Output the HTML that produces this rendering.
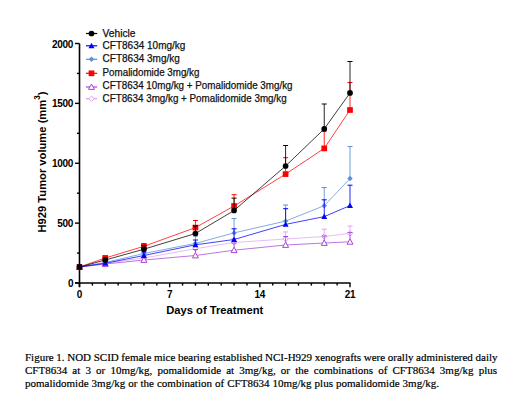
<!DOCTYPE html>
<html><head><meta charset="utf-8"><style>
html,body{margin:0;padding:0;background:#fff;}
body{width:520px;height:412px;overflow:hidden;position:relative;}
svg{position:absolute;left:0;top:0;}
.tl{font-family:"Liberation Sans",sans-serif;font-weight:bold;font-size:10px;letter-spacing:-0.25px;fill:#000;}
.lg{font-family:"Liberation Sans",sans-serif;font-size:10.4px;fill:#111;stroke:#111;stroke-width:0.25px;}
.at{font-family:"Liberation Sans",sans-serif;font-weight:bold;font-size:11.2px;fill:#000;}
.cap{position:absolute;left:25px;width:472px;font-family:"Liberation Serif",serif;font-size:11px;color:#000;white-space:nowrap;line-height:12.5px;-webkit-text-stroke:0.2px #000;}
.j{text-align:justify;text-align-last:justify;}
</style></head><body>
<svg width="520" height="412" viewBox="0 0 520 412">
<line x1="79.5" y1="43.5" x2="79.5" y2="287" stroke="#000" stroke-width="1.6"/>
<line x1="75" y1="283" x2="350.5" y2="283" stroke="#000" stroke-width="1.7"/>
<line x1="75" y1="283.00" x2="79.5" y2="283.00" stroke="#000" stroke-width="1.4"/>
<line x1="77" y1="253.06" x2="79.5" y2="253.06" stroke="#000" stroke-width="1.4"/>
<line x1="75" y1="223.12" x2="79.5" y2="223.12" stroke="#000" stroke-width="1.4"/>
<line x1="77" y1="193.19" x2="79.5" y2="193.19" stroke="#000" stroke-width="1.4"/>
<line x1="75" y1="163.25" x2="79.5" y2="163.25" stroke="#000" stroke-width="1.4"/>
<line x1="77" y1="133.31" x2="79.5" y2="133.31" stroke="#000" stroke-width="1.4"/>
<line x1="75" y1="103.38" x2="79.5" y2="103.38" stroke="#000" stroke-width="1.4"/>
<line x1="77" y1="73.44" x2="79.5" y2="73.44" stroke="#000" stroke-width="1.4"/>
<line x1="75" y1="43.50" x2="79.5" y2="43.50" stroke="#000" stroke-width="1.4"/>
<line x1="79.50" y1="283" x2="79.50" y2="287.3" stroke="#000" stroke-width="1.4"/>
<line x1="92.38" y1="283" x2="92.38" y2="285.6" stroke="#000" stroke-width="1.4"/>
<line x1="105.26" y1="283" x2="105.26" y2="285.6" stroke="#000" stroke-width="1.4"/>
<line x1="118.14" y1="283" x2="118.14" y2="285.6" stroke="#000" stroke-width="1.4"/>
<line x1="131.02" y1="283" x2="131.02" y2="285.6" stroke="#000" stroke-width="1.4"/>
<line x1="143.91" y1="283" x2="143.91" y2="285.6" stroke="#000" stroke-width="1.4"/>
<line x1="156.79" y1="283" x2="156.79" y2="285.6" stroke="#000" stroke-width="1.4"/>
<line x1="169.67" y1="283" x2="169.67" y2="287.3" stroke="#000" stroke-width="1.4"/>
<line x1="182.55" y1="283" x2="182.55" y2="285.6" stroke="#000" stroke-width="1.4"/>
<line x1="195.43" y1="283" x2="195.43" y2="285.6" stroke="#000" stroke-width="1.4"/>
<line x1="208.31" y1="283" x2="208.31" y2="285.6" stroke="#000" stroke-width="1.4"/>
<line x1="221.19" y1="283" x2="221.19" y2="285.6" stroke="#000" stroke-width="1.4"/>
<line x1="234.07" y1="283" x2="234.07" y2="285.6" stroke="#000" stroke-width="1.4"/>
<line x1="246.95" y1="283" x2="246.95" y2="285.6" stroke="#000" stroke-width="1.4"/>
<line x1="259.83" y1="283" x2="259.83" y2="287.3" stroke="#000" stroke-width="1.4"/>
<line x1="272.72" y1="283" x2="272.72" y2="285.6" stroke="#000" stroke-width="1.4"/>
<line x1="285.60" y1="283" x2="285.60" y2="285.6" stroke="#000" stroke-width="1.4"/>
<line x1="298.48" y1="283" x2="298.48" y2="285.6" stroke="#000" stroke-width="1.4"/>
<line x1="311.36" y1="283" x2="311.36" y2="285.6" stroke="#000" stroke-width="1.4"/>
<line x1="324.24" y1="283" x2="324.24" y2="285.6" stroke="#000" stroke-width="1.4"/>
<line x1="337.12" y1="283" x2="337.12" y2="285.6" stroke="#000" stroke-width="1.4"/>
<line x1="350.00" y1="283" x2="350.00" y2="287.3" stroke="#000" stroke-width="1.4"/>
<text x="73.2" y="287.10" text-anchor="end" class="tl">0</text>
<text x="73.2" y="227.22" text-anchor="end" class="tl">500</text>
<text x="73.2" y="167.35" text-anchor="end" class="tl">1000</text>
<text x="73.2" y="107.47" text-anchor="end" class="tl">1500</text>
<text x="73.2" y="47.60" text-anchor="end" class="tl">2000</text>
<text x="79.50" y="298" text-anchor="middle" class="tl">0</text>
<text x="169.67" y="298" text-anchor="middle" class="tl">7</text>
<text x="259.83" y="298" text-anchor="middle" class="tl">14</text>
<text x="350.00" y="298" text-anchor="middle" class="tl">21</text>
<polyline points="79.50,267.00 105.26,263.00 143.91,258.00 195.43,248.70 234.07,242.50 285.60,239.00 324.24,236.50 350.00,233.40" fill="none" stroke="#dca8f0" stroke-width="0.75"/>
<line x1="79.50" y1="267.00" x2="79.50" y2="265.00" stroke="#dca2f0" stroke-width="0.85"/>
<line x1="77.00" y1="265.00" x2="82.00" y2="265.00" stroke="#dca2f0" stroke-width="1"/>
<line x1="105.26" y1="263.00" x2="105.26" y2="261.00" stroke="#dca2f0" stroke-width="0.85"/>
<line x1="102.76" y1="261.00" x2="107.76" y2="261.00" stroke="#dca2f0" stroke-width="1"/>
<line x1="143.91" y1="258.00" x2="143.91" y2="256.00" stroke="#dca2f0" stroke-width="0.85"/>
<line x1="141.41" y1="256.00" x2="146.41" y2="256.00" stroke="#dca2f0" stroke-width="1"/>
<line x1="195.43" y1="248.70" x2="195.43" y2="246.50" stroke="#dca2f0" stroke-width="0.85"/>
<line x1="192.93" y1="246.50" x2="197.93" y2="246.50" stroke="#dca2f0" stroke-width="1"/>
<line x1="234.07" y1="242.50" x2="234.07" y2="238.50" stroke="#dca2f0" stroke-width="0.85"/>
<line x1="231.57" y1="238.50" x2="236.57" y2="238.50" stroke="#dca2f0" stroke-width="1"/>
<line x1="285.60" y1="239.00" x2="285.60" y2="231.90" stroke="#dca2f0" stroke-width="0.85"/>
<line x1="283.10" y1="231.90" x2="288.10" y2="231.90" stroke="#dca2f0" stroke-width="1"/>
<line x1="324.24" y1="236.50" x2="324.24" y2="229.20" stroke="#dca2f0" stroke-width="0.85"/>
<line x1="321.74" y1="229.20" x2="326.74" y2="229.20" stroke="#dca2f0" stroke-width="1"/>
<line x1="350.00" y1="233.40" x2="350.00" y2="226.10" stroke="#dca2f0" stroke-width="0.85"/>
<line x1="347.50" y1="226.10" x2="352.50" y2="226.10" stroke="#dca2f0" stroke-width="1"/>
<polygon points="79.50,264.30 82.20,267.00 79.50,269.70 76.80,267.00" fill="#fff" stroke="#dca2f0" stroke-width="1"/>
<polygon points="105.26,260.30 107.96,263.00 105.26,265.70 102.56,263.00" fill="#fff" stroke="#dca2f0" stroke-width="1"/>
<polygon points="143.91,255.30 146.60,258.00 143.91,260.70 141.21,258.00" fill="#fff" stroke="#dca2f0" stroke-width="1"/>
<polygon points="195.43,246.00 198.13,248.70 195.43,251.40 192.73,248.70" fill="#fff" stroke="#dca2f0" stroke-width="1"/>
<polygon points="234.07,239.80 236.77,242.50 234.07,245.20 231.37,242.50" fill="#fff" stroke="#dca2f0" stroke-width="1"/>
<polygon points="285.60,236.30 288.30,239.00 285.60,241.70 282.90,239.00" fill="#fff" stroke="#dca2f0" stroke-width="1"/>
<polygon points="324.24,233.80 326.94,236.50 324.24,239.20 321.54,236.50" fill="#fff" stroke="#dca2f0" stroke-width="1"/>
<polygon points="350.00,230.70 352.70,233.40 350.00,236.10 347.30,233.40" fill="#fff" stroke="#dca2f0" stroke-width="1"/>
<polyline points="79.50,267.00 105.26,264.00 143.91,260.00 195.43,255.50 234.07,250.20 285.60,245.00 324.24,243.00 350.00,241.80" fill="none" stroke="#a845d8" stroke-width="0.75"/>
<line x1="79.50" y1="267.00" x2="79.50" y2="265.00" stroke="#a845d8" stroke-width="0.85"/>
<line x1="77.00" y1="265.00" x2="82.00" y2="265.00" stroke="#a845d8" stroke-width="1"/>
<line x1="105.26" y1="264.00" x2="105.26" y2="262.00" stroke="#a845d8" stroke-width="0.85"/>
<line x1="102.76" y1="262.00" x2="107.76" y2="262.00" stroke="#a845d8" stroke-width="1"/>
<line x1="143.91" y1="260.00" x2="143.91" y2="258.00" stroke="#a845d8" stroke-width="0.85"/>
<line x1="141.41" y1="258.00" x2="146.41" y2="258.00" stroke="#a845d8" stroke-width="1"/>
<line x1="195.43" y1="255.50" x2="195.43" y2="249.50" stroke="#a845d8" stroke-width="0.85"/>
<line x1="192.93" y1="249.50" x2="197.93" y2="249.50" stroke="#a845d8" stroke-width="1"/>
<line x1="234.07" y1="250.20" x2="234.07" y2="243.00" stroke="#a845d8" stroke-width="0.85"/>
<line x1="231.57" y1="243.00" x2="236.57" y2="243.00" stroke="#a845d8" stroke-width="1"/>
<line x1="285.60" y1="245.00" x2="285.60" y2="236.50" stroke="#a845d8" stroke-width="0.85"/>
<line x1="283.10" y1="236.50" x2="288.10" y2="236.50" stroke="#a845d8" stroke-width="1"/>
<line x1="324.24" y1="243.00" x2="324.24" y2="236.00" stroke="#a845d8" stroke-width="0.85"/>
<line x1="321.74" y1="236.00" x2="326.74" y2="236.00" stroke="#a845d8" stroke-width="1"/>
<line x1="350.00" y1="241.80" x2="350.00" y2="232.60" stroke="#a845d8" stroke-width="0.85"/>
<line x1="347.50" y1="232.60" x2="352.50" y2="232.60" stroke="#a845d8" stroke-width="1"/>
<polygon points="79.50,264.00 82.50,269.40 76.50,269.40" fill="#fff" stroke="#a845d8" stroke-width="1"/>
<polygon points="105.26,261.00 108.26,266.40 102.26,266.40" fill="#fff" stroke="#a845d8" stroke-width="1"/>
<polygon points="143.91,257.00 146.91,262.40 140.91,262.40" fill="#fff" stroke="#a845d8" stroke-width="1"/>
<polygon points="195.43,252.50 198.43,257.90 192.43,257.90" fill="#fff" stroke="#a845d8" stroke-width="1"/>
<polygon points="234.07,247.20 237.07,252.60 231.07,252.60" fill="#fff" stroke="#a845d8" stroke-width="1"/>
<polygon points="285.60,242.00 288.60,247.40 282.60,247.40" fill="#fff" stroke="#a845d8" stroke-width="1"/>
<polygon points="324.24,240.00 327.24,245.40 321.24,245.40" fill="#fff" stroke="#a845d8" stroke-width="1"/>
<polygon points="350.00,238.80 353.00,244.20 347.00,244.20" fill="#fff" stroke="#a845d8" stroke-width="1"/>
<polyline points="79.50,267.00 105.26,258.00 143.91,246.30 195.43,227.60 234.07,206.00 285.60,174.10 324.24,148.40 350.00,110.00" fill="none" stroke="#ff0000" stroke-width="0.75"/>
<line x1="79.50" y1="267.00" x2="79.50" y2="265.00" stroke="#ff0000" stroke-width="0.85"/>
<line x1="77.00" y1="265.00" x2="82.00" y2="265.00" stroke="#ff0000" stroke-width="1"/>
<line x1="105.26" y1="258.00" x2="105.26" y2="256.00" stroke="#ff0000" stroke-width="0.85"/>
<line x1="102.76" y1="256.00" x2="107.76" y2="256.00" stroke="#ff0000" stroke-width="1"/>
<line x1="143.91" y1="246.30" x2="143.91" y2="243.50" stroke="#ff0000" stroke-width="0.85"/>
<line x1="141.41" y1="243.50" x2="146.41" y2="243.50" stroke="#ff0000" stroke-width="1"/>
<line x1="195.43" y1="227.60" x2="195.43" y2="220.50" stroke="#ff0000" stroke-width="0.85"/>
<line x1="192.93" y1="220.50" x2="197.93" y2="220.50" stroke="#ff0000" stroke-width="1"/>
<line x1="234.07" y1="206.00" x2="234.07" y2="194.70" stroke="#ff0000" stroke-width="0.85"/>
<line x1="231.57" y1="194.70" x2="236.57" y2="194.70" stroke="#ff0000" stroke-width="1"/>
<line x1="285.60" y1="174.10" x2="285.60" y2="157.70" stroke="#ff0000" stroke-width="0.85"/>
<line x1="283.10" y1="157.70" x2="288.10" y2="157.70" stroke="#ff0000" stroke-width="1"/>
<line x1="324.24" y1="148.40" x2="324.24" y2="131.00" stroke="#ff0000" stroke-width="0.85"/>
<line x1="321.74" y1="131.00" x2="326.74" y2="131.00" stroke="#ff0000" stroke-width="1"/>
<line x1="350.00" y1="110.00" x2="350.00" y2="82.50" stroke="#ff0000" stroke-width="0.85"/>
<line x1="347.50" y1="82.50" x2="352.50" y2="82.50" stroke="#ff0000" stroke-width="1"/>
<rect x="76.65" y="264.15" width="5.70" height="5.70" fill="#ff0000"/>
<rect x="102.41" y="255.15" width="5.70" height="5.70" fill="#ff0000"/>
<rect x="141.06" y="243.45" width="5.70" height="5.70" fill="#ff0000"/>
<rect x="192.58" y="224.75" width="5.70" height="5.70" fill="#ff0000"/>
<rect x="231.22" y="203.15" width="5.70" height="5.70" fill="#ff0000"/>
<rect x="282.75" y="171.25" width="5.70" height="5.70" fill="#ff0000"/>
<rect x="321.39" y="145.55" width="5.70" height="5.70" fill="#ff0000"/>
<rect x="347.15" y="107.15" width="5.70" height="5.70" fill="#ff0000"/>
<polyline points="79.50,267.00 105.26,262.50 143.91,253.50 195.43,243.40 234.07,232.90 285.60,221.10 324.24,205.70 350.00,178.50" fill="none" stroke="#5b8fd8" stroke-width="0.75"/>
<line x1="79.50" y1="267.00" x2="79.50" y2="265.00" stroke="#5b8fd8" stroke-width="0.85"/>
<line x1="77.00" y1="265.00" x2="82.00" y2="265.00" stroke="#5b8fd8" stroke-width="1"/>
<line x1="105.26" y1="262.50" x2="105.26" y2="260.00" stroke="#5b8fd8" stroke-width="0.85"/>
<line x1="102.76" y1="260.00" x2="107.76" y2="260.00" stroke="#5b8fd8" stroke-width="1"/>
<line x1="143.91" y1="253.50" x2="143.91" y2="250.00" stroke="#5b8fd8" stroke-width="0.85"/>
<line x1="141.41" y1="250.00" x2="146.41" y2="250.00" stroke="#5b8fd8" stroke-width="1"/>
<line x1="195.43" y1="243.40" x2="195.43" y2="236.00" stroke="#5b8fd8" stroke-width="0.85"/>
<line x1="192.93" y1="236.00" x2="197.93" y2="236.00" stroke="#5b8fd8" stroke-width="1"/>
<line x1="234.07" y1="232.90" x2="234.07" y2="218.60" stroke="#5b8fd8" stroke-width="0.85"/>
<line x1="231.57" y1="218.60" x2="236.57" y2="218.60" stroke="#5b8fd8" stroke-width="1"/>
<line x1="285.60" y1="221.10" x2="285.60" y2="205.00" stroke="#5b8fd8" stroke-width="0.85"/>
<line x1="283.10" y1="205.00" x2="288.10" y2="205.00" stroke="#5b8fd8" stroke-width="1"/>
<line x1="324.24" y1="205.70" x2="324.24" y2="187.50" stroke="#5b8fd8" stroke-width="0.85"/>
<line x1="321.74" y1="187.50" x2="326.74" y2="187.50" stroke="#5b8fd8" stroke-width="1"/>
<line x1="350.00" y1="178.50" x2="350.00" y2="146.60" stroke="#5b8fd8" stroke-width="0.85"/>
<line x1="347.50" y1="146.60" x2="352.50" y2="146.60" stroke="#5b8fd8" stroke-width="1"/>
<polygon points="79.50,264.30 82.20,267.00 79.50,269.70 76.80,267.00" fill="#5b8fd8"/>
<polygon points="105.26,259.80 107.96,262.50 105.26,265.20 102.56,262.50" fill="#5b8fd8"/>
<polygon points="143.91,250.80 146.60,253.50 143.91,256.20 141.21,253.50" fill="#5b8fd8"/>
<polygon points="195.43,240.70 198.13,243.40 195.43,246.10 192.73,243.40" fill="#5b8fd8"/>
<polygon points="234.07,230.20 236.77,232.90 234.07,235.60 231.37,232.90" fill="#5b8fd8"/>
<polygon points="285.60,218.40 288.30,221.10 285.60,223.80 282.90,221.10" fill="#5b8fd8"/>
<polygon points="324.24,203.00 326.94,205.70 324.24,208.40 321.54,205.70" fill="#5b8fd8"/>
<polygon points="350.00,175.80 352.70,178.50 350.00,181.20 347.30,178.50" fill="#5b8fd8"/>
<polyline points="79.50,267.00 105.26,263.30 143.91,255.50 195.43,244.80 234.07,239.50 285.60,224.40 324.24,216.60 350.00,205.60" fill="none" stroke="#0000ff" stroke-width="0.75"/>
<line x1="79.50" y1="267.00" x2="79.50" y2="265.00" stroke="#0000ff" stroke-width="0.85"/>
<line x1="77.00" y1="265.00" x2="82.00" y2="265.00" stroke="#0000ff" stroke-width="1"/>
<line x1="105.26" y1="263.30" x2="105.26" y2="261.00" stroke="#0000ff" stroke-width="0.85"/>
<line x1="102.76" y1="261.00" x2="107.76" y2="261.00" stroke="#0000ff" stroke-width="1"/>
<line x1="143.91" y1="255.50" x2="143.91" y2="252.00" stroke="#0000ff" stroke-width="0.85"/>
<line x1="141.41" y1="252.00" x2="146.41" y2="252.00" stroke="#0000ff" stroke-width="1"/>
<line x1="195.43" y1="244.80" x2="195.43" y2="240.00" stroke="#0000ff" stroke-width="0.85"/>
<line x1="192.93" y1="240.00" x2="197.93" y2="240.00" stroke="#0000ff" stroke-width="1"/>
<line x1="234.07" y1="239.50" x2="234.07" y2="228.80" stroke="#0000ff" stroke-width="0.85"/>
<line x1="231.57" y1="228.80" x2="236.57" y2="228.80" stroke="#0000ff" stroke-width="1"/>
<line x1="285.60" y1="224.40" x2="285.60" y2="208.70" stroke="#0000ff" stroke-width="0.85"/>
<line x1="283.10" y1="208.70" x2="288.10" y2="208.70" stroke="#0000ff" stroke-width="1"/>
<line x1="324.24" y1="216.60" x2="324.24" y2="199.80" stroke="#0000ff" stroke-width="0.85"/>
<line x1="321.74" y1="199.80" x2="326.74" y2="199.80" stroke="#0000ff" stroke-width="1"/>
<line x1="350.00" y1="205.60" x2="350.00" y2="185.20" stroke="#0000ff" stroke-width="0.85"/>
<line x1="347.50" y1="185.20" x2="352.50" y2="185.20" stroke="#0000ff" stroke-width="1"/>
<polygon points="79.50,264.00 82.50,269.40 76.50,269.40" fill="#0000ff"/>
<polygon points="105.26,260.30 108.26,265.70 102.26,265.70" fill="#0000ff"/>
<polygon points="143.91,252.50 146.91,257.90 140.91,257.90" fill="#0000ff"/>
<polygon points="195.43,241.80 198.43,247.20 192.43,247.20" fill="#0000ff"/>
<polygon points="234.07,236.50 237.07,241.90 231.07,241.90" fill="#0000ff"/>
<polygon points="285.60,221.40 288.60,226.80 282.60,226.80" fill="#0000ff"/>
<polygon points="324.24,213.60 327.24,219.00 321.24,219.00" fill="#0000ff"/>
<polygon points="350.00,202.60 353.00,208.00 347.00,208.00" fill="#0000ff"/>
<polyline points="79.50,267.00 105.26,260.00 143.91,249.20 195.43,233.50 234.07,210.50 285.60,166.00 324.24,128.90 350.00,92.90" fill="none" stroke="#000000" stroke-width="0.75"/>
<line x1="79.50" y1="267.00" x2="79.50" y2="265.00" stroke="#000000" stroke-width="0.85"/>
<line x1="77.00" y1="265.00" x2="82.00" y2="265.00" stroke="#000000" stroke-width="1"/>
<line x1="105.26" y1="260.00" x2="105.26" y2="258.00" stroke="#000000" stroke-width="0.85"/>
<line x1="102.76" y1="258.00" x2="107.76" y2="258.00" stroke="#000000" stroke-width="1"/>
<line x1="143.91" y1="249.20" x2="143.91" y2="245.50" stroke="#000000" stroke-width="0.85"/>
<line x1="141.41" y1="245.50" x2="146.41" y2="245.50" stroke="#000000" stroke-width="1"/>
<line x1="195.43" y1="233.50" x2="195.43" y2="226.00" stroke="#000000" stroke-width="0.85"/>
<line x1="192.93" y1="226.00" x2="197.93" y2="226.00" stroke="#000000" stroke-width="1"/>
<line x1="234.07" y1="210.50" x2="234.07" y2="198.10" stroke="#000000" stroke-width="0.85"/>
<line x1="231.57" y1="198.10" x2="236.57" y2="198.10" stroke="#000000" stroke-width="1"/>
<line x1="285.60" y1="166.00" x2="285.60" y2="145.50" stroke="#000000" stroke-width="0.85"/>
<line x1="283.10" y1="145.50" x2="288.10" y2="145.50" stroke="#000000" stroke-width="1"/>
<line x1="324.24" y1="128.90" x2="324.24" y2="104.00" stroke="#000000" stroke-width="0.85"/>
<line x1="321.74" y1="104.00" x2="326.74" y2="104.00" stroke="#000000" stroke-width="1"/>
<line x1="350.00" y1="92.90" x2="350.00" y2="61.50" stroke="#000000" stroke-width="0.85"/>
<line x1="347.50" y1="61.50" x2="352.50" y2="61.50" stroke="#000000" stroke-width="1"/>
<circle cx="79.50" cy="267.00" r="2.85" fill="#000000"/>
<circle cx="105.26" cy="260.00" r="2.85" fill="#000000"/>
<circle cx="143.91" cy="249.20" r="2.85" fill="#000000"/>
<circle cx="195.43" cy="233.50" r="2.85" fill="#000000"/>
<circle cx="234.07" cy="210.50" r="2.85" fill="#000000"/>
<circle cx="285.60" cy="166.00" r="2.85" fill="#000000"/>
<circle cx="324.24" cy="128.90" r="2.85" fill="#000000"/>
<circle cx="350.00" cy="92.90" r="2.85" fill="#000000"/>
<line x1="86" y1="33.5" x2="97.2" y2="33.5" stroke="#000000" stroke-width="1.2"/>
<circle cx="91.50" cy="33.50" r="2.85" fill="#000000"/>
<text x="102.6" y="36.6" class="lg" textLength="32.8" lengthAdjust="spacingAndGlyphs">Vehicle</text>
<line x1="86" y1="45.8" x2="97.2" y2="45.8" stroke="#0000ff" stroke-width="1.2"/>
<polygon points="91.50,42.80 94.50,48.20 88.50,48.20" fill="#0000ff"/>
<text x="102.6" y="48.6" class="lg" textLength="82.8" lengthAdjust="spacingAndGlyphs">CFT8634 10mg/kg</text>
<line x1="86" y1="59.3" x2="97.2" y2="59.3" stroke="#5b8fd8" stroke-width="1.2"/>
<polygon points="91.50,56.60 94.20,59.30 91.50,62.00 88.80,59.30" fill="#5b8fd8"/>
<text x="102.6" y="62.2" class="lg" textLength="77.2" lengthAdjust="spacingAndGlyphs">CFT8634 3mg/kg</text>
<line x1="86" y1="73.3" x2="97.2" y2="73.3" stroke="#ff0000" stroke-width="1.2"/>
<rect x="88.65" y="70.45" width="5.70" height="5.70" fill="#ff0000"/>
<text x="102.6" y="76.0" class="lg" textLength="96.8" lengthAdjust="spacingAndGlyphs">Pomalidomide 3mg/kg</text>
<line x1="86" y1="87.0" x2="97.2" y2="87.0" stroke="#a845d8" stroke-width="1.2"/>
<polygon points="91.50,84.00 94.50,89.40 88.50,89.40" fill="#fff" stroke="#a845d8" stroke-width="1"/>
<text x="102.6" y="89.3" class="lg" textLength="190.0" lengthAdjust="spacingAndGlyphs">CFT8634 10mg/kg + Pomalidomide 3mg/kg</text>
<line x1="86" y1="98.7" x2="97.2" y2="98.7" stroke="#dca2f0" stroke-width="1.2"/>
<polygon points="91.50,96.00 94.20,98.70 91.50,101.40 88.80,98.70" fill="#fff" stroke="#dca2f0" stroke-width="1"/>
<text x="102.6" y="101.7" class="lg" textLength="184.0" lengthAdjust="spacingAndGlyphs">CFT8634 3mg/kg + Pomalidomide 3mg/kg</text>
<text x="214.75" y="314" text-anchor="middle" class="at">Days of Treatment</text>
<text transform="translate(46,162) rotate(-90)" text-anchor="middle" class="at">H929 Tumor volume (mm<tspan dy="-5.9" font-size="8.2">3</tspan><tspan dy="5.9">)</tspan></text>
</svg>
<div class="cap j" style="top:351.2px;width:472.5px;word-spacing:-0.25px">Figure 1. NOD SCID female mice bearing established NCI-H929 xenografts were orally administered daily</div>
<div class="cap j" style="top:363.9px">CFT8634 at 3 or 10mg/kg, pomalidomide at 3mg/kg, or the combinations of CFT8634 3mg/kg plus</div>
<div class="cap" style="top:376.6px;word-spacing:0.3px">pomalidomide 3mg/kg or the combination of CFT8634 10mg/kg plus pomalidomide 3mg/kg.</div>
</body></html>
